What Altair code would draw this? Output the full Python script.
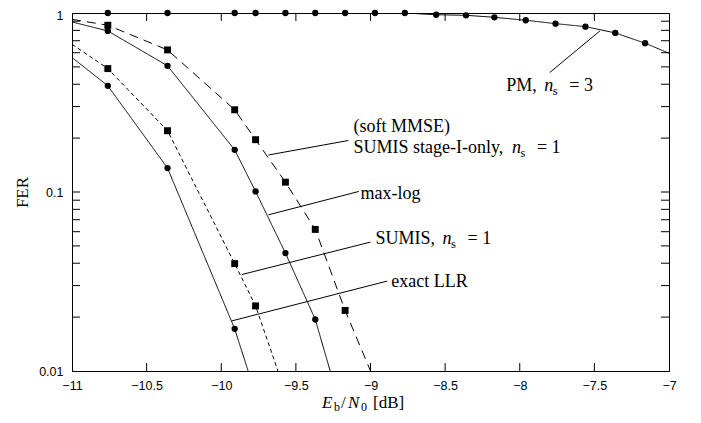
import altair as alt
import pandas as pd

W, H = 597, 358

# ---------------- data ----------------
# each curve: first point = left edge of plot, last point = where it leaves the plot (no marker there)
pm_x = [-11.0, -10.76, -10.36, -9.91, -9.77, -9.57, -9.37, -9.17, -8.97, -8.77,
        -8.56, -8.36, -8.17, -7.96, -7.76, -7.56, -7.36, -7.16, -7.0]
pm_fer = [1.0, 1.0, 1.0, 1.0, 1.0, 1.0, 1.0, 1.0, 1.0, 1.0,
          0.978, 0.971, 0.946, 0.911, 0.872, 0.839, 0.774, 0.678, 0.596]

mmse_x = [-11.0, -10.76, -10.36, -9.91, -9.77, -9.57, -9.37, -9.17, -9.0]
mmse_fer = [0.922, 0.854, 0.622, 0.288, 0.196, 0.1135, 0.0618, 0.0218, 0.01]

maxlog_x = [-11.0, -10.76, -10.36, -9.91, -9.77, -9.57, -9.37, -9.27]
maxlog_fer = [0.891, 0.794, 0.507, 0.172, 0.1007, 0.0456, 0.0194, 0.01]

sumis_x = [-11.0, -10.76, -10.36, -9.91, -9.77, -9.62]
sumis_fer = [0.669, 0.489, 0.220, 0.0398, 0.0231, 0.01]

exact_x = [-11.0, -10.76, -10.36, -9.91, -9.82]
exact_fer = [0.564, 0.392, 0.136, 0.0172, 0.01]

x_tick_labels = [-11, -10.5, -10, -9.5, -9, -8.5, -8, -7.5, -7]
y_tick_labels = [0.01, 0.1, 1]
y_minor = [0.02, 0.03, 0.04, 0.05, 0.06, 0.07, 0.08, 0.09, 0.1,
           0.2, 0.3, 0.4, 0.5, 0.6, 0.7, 0.8, 0.9]
x_inner = [-10.5, -10, -9.5, -9, -8.5, -8, -7.5]

# leader lines (curve end -> label end)
lead_x1 = [-7.463, -9.683, -9.683, -9.861, -9.928]
lead_y1 = [0.794, 0.161, 0.0746, 0.0346, 0.01906]
lead_x2 = [-7.799, -9.148, -9.078, -9.0, -8.888]
lead_y2 = [0.465, 0.194, 0.1007, 0.0525, 0.0318]

# labels: anchor (left edge, vertical centre)
lab_text = ["PM, ", "(soft MMSE)", "SUMIS stage-I-only, ", "max-log", "SUMIS, ", "exact LLR"]
lab_x = [-8.09, -9.114, -9.114, -9.067, -8.966, -8.861]
lab_y = [0.392, 0.2296, 0.1754, 0.0977, 0.0544, 0.03145]
lab_ns = ["3", None, "1", None, "1", None]

# ---------------- chart ----------------
xs = alt.Scale(domain=[-11, -7], nice=False, zero=False)
ys = alt.Scale(type="log", domain=[0.01, 1], nice=False)
SERIF = "Liberation Serif"
SANS = "Liberation Sans"

layers = []

# axes carrier
axis_df = pd.DataFrame({"x": [-11.0], "y": [1.0]})
base = alt.Chart(axis_df).mark_point(opacity=0).encode(
    x=alt.X("x:Q", scale=xs, axis=alt.Axis(
        values=x_tick_labels, format="~g", title=None, ticks=False, tickSize=0,
        grid=False, domainColor="black", labelFont=SANS, labelFontSize=12.5,
        labelColor="black", labelPadding=8, labelFlush=False, labelOverlap=False)),
    y=alt.Y("y:Q", scale=ys, axis=alt.Axis(
        values=y_tick_labels, format="~g", title="FER", ticks=False, tickSize=0,
        grid=False, domainColor="black", labelFont=SANS, labelFontSize=12.5,
        labelColor="black", labelPadding=9, labelFlush=False, labelOverlap=False,
        labelOffset={"condition": {"test": "datum.value == 1", "value": 2}, "value": 0},
        titleFont=SERIF, titleFontSize=17, titleFontWeight="normal", titleColor="black",
        titleX=-50, titleY=H / 2, titleAngle=270, titleAlign="center", titleBaseline="middle")),
)
layers.append(base)

# inner ticks
xt = pd.DataFrame({"x": x_inner})
for y0, y1 in [(H, H - 8), (0, 8)]:
    layers.append(alt.Chart(xt).mark_rule(color="black", strokeWidth=1).encode(
        x=alt.X("x:Q", scale=xs), y=alt.value(y0), y2=alt.value(y1)))
yt = pd.DataFrame({"y": y_minor})
for x0, x1 in [(0, 8), (W, W - 8)]:
    layers.append(alt.Chart(yt).mark_rule(color="black", strokeWidth=1).encode(
        y=alt.Y("y:Q", scale=ys), x=alt.value(x0), x2=alt.value(x1)))

# curves
curves = [
    (pm_x, pm_fer, [1, 0], "circle", 40),
    (mmse_x, mmse_fer, [9, 6], "square", 48),
    (maxlog_x, maxlog_fer, [1, 0], "circle", 40),
    (sumis_x, sumis_fer, [4, 3], "square", 48),
    (exact_x, exact_fer, [1, 0], "circle", 40),
]
for cx, cy, dash, shape, size in curves:
    df = pd.DataFrame({"x": cx, "y": cy, "i": list(range(len(cx)))})
    layers.append(alt.Chart(df).mark_line(color="black", strokeWidth=1, strokeDash=dash, clip=True).encode(
        x=alt.X("x:Q", scale=xs), y=alt.Y("y:Q", scale=ys), order="i:Q"))
    mdf = df.iloc[1:-1]
    layers.append(alt.Chart(mdf).mark_point(shape=shape, filled=True, color="black", size=size, opacity=1).encode(
        x=alt.X("x:Q", scale=xs), y=alt.Y("y:Q", scale=ys)))

# leader lines
ldf = pd.DataFrame({"x": lead_x1, "y": lead_y1, "x2": lead_x2, "y2": lead_y2})
layers.append(alt.Chart(ldf).mark_rule(color="black", strokeWidth=1).encode(
    x=alt.X("x:Q", scale=xs), y=alt.Y("y:Q", scale=ys), x2="x2:Q", y2="y2:Q"))

# labels
tdf = pd.DataFrame({"x": lab_x, "y": lab_y, "t": lab_text})
layers.append(alt.Chart(tdf).mark_text(font=SERIF, fontSize=18, align="left", baseline="middle", color="black").encode(
    x=alt.X("x:Q", scale=xs), y=alt.Y("y:Q", scale=ys), text="t:N"))

def width18(s):
    w = {" ": 250, ",": 250, "-": 333, "(": 333, ")": 333, "S": 556, "U": 722, "M": 889, "I": 333,
         "P": 556, "s": 389, "t": 278, "a": 444, "g": 500, "e": 444, "o": 500, "n": 500, "l": 278,
         "y": 500}
    return sum(w.get(c, 500) for c in s) * 18 / 1000

for t, lx, ly, ns in zip(lab_text, lab_x, lab_y, lab_ns):
    if ns is None:
        continue
    w = width18(t)
    d1 = pd.DataFrame({"x": [lx], "y": [ly]})
    enc = dict(x=alt.X("x:Q", scale=xs), y=alt.Y("y:Q", scale=ys))
    layers.append(alt.Chart(d1).mark_text(text="n", font=SERIF, fontSize=18, fontStyle="italic", align="left",
                                          baseline="middle", color="black", dx=w + 3).encode(**enc))
    layers.append(alt.Chart(d1).mark_text(text="s", font=SERIF, fontSize=12.5, align="left",
                                          baseline="middle", color="black", dx=w + 11.5, dy=5).encode(**enc))
    layers.append(alt.Chart(d1).mark_text(text="= " + ns, font=SERIF, fontSize=18, align="left",
                                          baseline="middle", color="black", dx=w + 28).encode(**enc))

# x-axis title  E_b / N_0 [dB]
title_pieces = [("E", 250, 17, "italic", 0), ("b", 262, 12, "normal", 4), ("/", 269, 17, "normal", 0),
                ("N", 276, 17, "italic", 0), ("0", 289, 12, "normal", 4), ("[dB]", 301, 17, "normal", 0)]
for txt, px, fs, st, dy in title_pieces:
    layers.append(alt.Chart(axis_df).mark_text(text=txt, font=SERIF, fontSize=fs, fontStyle=st, align="left",
                                               baseline="middle", color="black", dy=dy).encode(
        x=alt.value(px), y=alt.value(H + 32)))

chart = alt.layer(*layers).properties(
    width=W, height=H,
    autosize=alt.AutoSizeParams(type="none"),
    padding={"left": 64, "top": 5, "right": 24, "bottom": 44},
).configure_view(stroke="black", strokeWidth=1).configure_axis(domainWidth=1)

chart.save("out.html", embed_options={"renderer": "svg", "actions": False})
